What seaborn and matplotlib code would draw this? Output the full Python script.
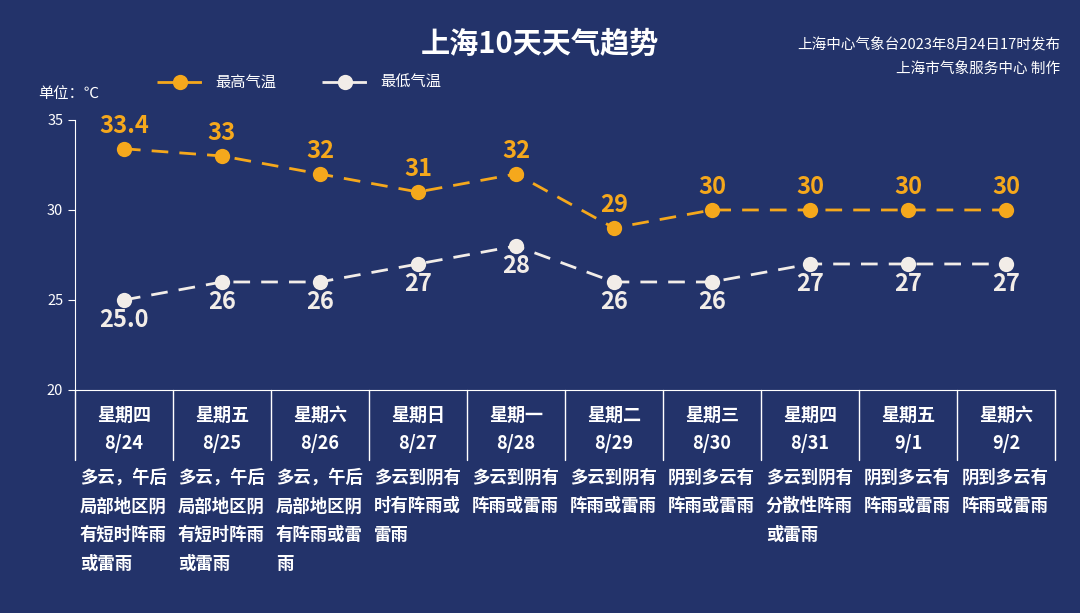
import matplotlib.pyplot as plt
import matplotlib.transforms as mtransforms
import pandas as pd
import seaborn as sns

weekdays = ['星期四', '星期五', '星期六', '星期日', '星期一', '星期二', '星期三', '星期四', '星期五', '星期六']
dates = ['8/24', '8/25', '8/26', '8/27', '8/28', '8/29', '8/30', '8/31', '9/1', '9/2']
high = [33.4, 33, 32, 31, 32, 29, 30, 30, 30, 30]
low = [25.0, 26, 26, 27, 28, 26, 26, 27, 27, 27]
high_labels = ['33.4', '33', '32', '31', '32', '29', '30', '30', '30', '30']
low_labels = ['25.0', '26', '26', '27', '28', '26', '26', '27', '27', '27']
weather = ['多云，午后\n局部地区阴\n有短时阵雨\n或雷雨', '多云，午后\n局部地区阴\n有短时阵雨\n或雷雨',
           '多云，午后\n局部地区阴\n有阵雨或雷\n雨', '多云到阴有\n时有阵雨或\n雷雨', '多云到阴有\n阵雨或雷雨',
           '多云到阴有\n阵雨或雷雨', '阴到多云有\n阵雨或雷雨', '多云到阴有\n分散性阵雨\n或雷雨',
           '阴到多云有\n阵雨或雷雨', '阴到多云有\n阵雨或雷雨']

BG = '#23336a'
ORANGE = '#f5a81c'
WHITE = '#f2ede8'

sns.set_style('dark')
plt.rcParams['font.family'] = ['Noto Sans CJK SC', 'DejaVu Sans']

df = pd.DataFrame({'x': range(len(dates)), 'high': high, 'low': low})

fig = plt.figure(figsize=(10.8, 6.13), dpi=100, facecolor=BG)
ax = fig.add_axes([0.0694, 0.3638, 0.9074, 0.4405])
ax.set_facecolor(BG)

sns.lineplot(data=df, x='x', y='high', ax=ax, color=ORANGE, lw=2, marker='o', markersize=11,
             markeredgewidth=0, label='最高气温')
sns.lineplot(data=df, x='x', y='low', ax=ax, color=WHITE, lw=2, marker='o', markersize=11,
             markeredgewidth=0, label='最低气温')
for line in ax.lines:
    line.set_dashes([6, 4])

for i in range(len(dates)):
    ax.annotate(high_labels[i], (i, high[i]), xytext=(0, 8), textcoords='offset points',
                ha='center', va='bottom', color=ORANGE, fontsize=17, fontweight='bold')
    ax.annotate(low_labels[i], (i, low[i]), xytext=(0, -6), textcoords='offset points',
                ha='center', va='top', color=WHITE, fontsize=17, fontweight='bold')

ax.set_xlim(-0.5, 9.5)
ax.set_ylim(20, 35)
ax.set_yticks([20, 25, 30, 35])
ax.set_xticks([])
ax.tick_params(axis='y', colors='white', labelsize=10.5, length=5, left=True)
ax.grid(False)
for s in ['top', 'right']:
    ax.spines[s].set_visible(False)
for s in ['left', 'bottom']:
    ax.spines[s].set_color('white')
ax.set_xlabel('')
ax.set_ylabel('')

trans = mtransforms.blended_transform_factory(ax.transData, ax.transAxes)
for i in range(len(dates) + 1):
    ax.plot([i - 0.5, i - 0.5], [0, -0.26], transform=trans, color='white', lw=1, clip_on=False)
for i in range(len(dates)):
    ax.text(i, -0.095, weekdays[i], transform=trans, ha='center', va='center', color='white',
            fontsize=13, fontweight='bold')
    ax.text(i, -0.2, dates[i], transform=trans, ha='center', va='center', color='white',
            fontsize=13, fontweight='bold')
    ax.text(i - 0.45, -0.29, weather[i], transform=trans, ha='left', va='top', color='white',
            fontsize=12.5, fontweight='bold', linespacing=1.78)

leg = ax.legend(loc='upper left', bbox_to_anchor=(0.07, 1.22), ncol=2, frameon=False,
                fontsize=11, labelcolor='white', handlelength=3, columnspacing=3)

fig.text(0.5, 0.928, '上海10天天气趋势', ha='center', va='center', color='white', fontsize=21,
         fontweight='bold')
fig.text(0.982, 0.928, '上海中心气象台2023年8月24日17时发布', ha='right', va='center',
         color='white', fontsize=10.5)
fig.text(0.982, 0.888, '上海市气象服务中心 制作', ha='right', va='center', color='white', fontsize=10.5)
fig.text(0.035, 0.848, '单位：℃', ha='left', va='center', color='white', fontsize=11)

fig.savefig('out.png', dpi=100, facecolor=BG)
